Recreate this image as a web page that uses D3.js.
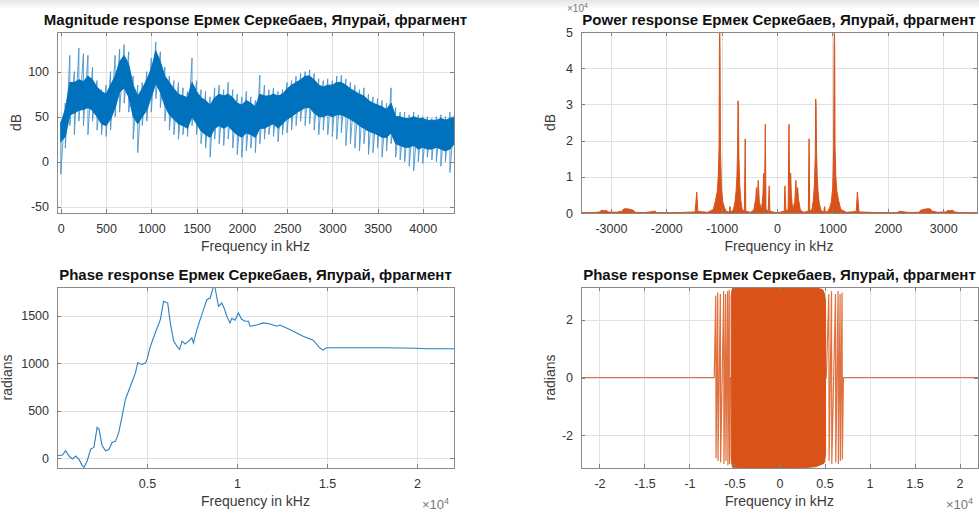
<!DOCTYPE html>
<html>
<head>
<meta charset="utf-8">
<script src="https://cdn.jsdelivr.net/npm/d3@7"></script>
<style>
  body { margin: 0; background: #fff; }
  svg { display: block; font-family: "Liberation Sans", Arial, sans-serif; }
  .grid line { stroke: #e1e1e1; shape-rendering: crispEdges; }
  .grid .domain { display: none; }
  .tk line { stroke: #808080; shape-rendering: crispEdges; }
  .tk .domain { display: none; }
  .tk text { fill: #333; font-size: 12.5px; font-family: "Liberation Sans", Arial, sans-serif; }
  .title { font-weight: bold; font-size: 15px; fill: #111; text-anchor: middle; }
  .lbl { font-size: 14px; fill: #3a3a3a; text-anchor: middle; }
  .expo { font-size: 13px; fill: #777; }
</style>
</head>
<body>
<svg id="fig" width="979" height="513"></svg>
<script>
// ---- magnitude response (dB), 50 kHz bins ----
var magFreq = [0,50,100,150,200,250,300,350,400,450,500,550,600,650,700,750,800,850,900,950,
  1000,1050,1100,1150,1200,1250,1300,1350,1400,1450,1500,1550,1600,1650,1700,1750,1800,1850,1900,1950,
  2000,2050,2100,2150,2200,2250,2300,2350,2400,2450,2500,2550,2600,2650,2700,2750,2800,2850,2900,2950,
  3000,3050,3100,3150,3200,3250,3300,3350,3400,3450,3500,3550,3600,3650,3700,3750,3800,3850,3900,3950,
  4000,4050,4100,4150,4200,4250,4300,4350];
var magPeak = [45,65,118,100,126,120,118,105,90,80, 85,100,118,125,130,122,95,85,88,100,
  115,133,122,105,95,90,88,82,78,115, 90,80,78,72,82,85,80,88,80,75,
  72,78,72,68,96,85,80,82,78,80, 88,90,95,98,100,102,98,92,90,92,
  90,95,96,92,88,85,80,82,75,72, 70,68,65,82,60,55,55,52,55,52,
  50,50,48,50,52,50,55,52];
var magHi = [43,58,88,88,91,89,95,91,83,78, 75,85,95,111,118,108,85,73,81,91,
  103,123,111,95,88,81,75,73,71,88, 78,71,68,63,71,75,73,75,71,65,
  63,68,65,61,75,73,73,75,73,75, 81,85,88,91,95,95,91,85,83,85,
  85,88,88,85,81,78,75,73,68,65, 63,61,58,65,50,50,48,48,50,48,
  48,46,46,46,48,46,48,50];
var magLo = [22,28,52,54,57,58,60,57,50,42, 40,47,60,77,82,72,50,42,50,57,
  72,87,77,62,52,47,42,40,37,50, 42,34,30,27,37,40,37,40,34,30,
  27,32,30,27,37,37,40,42,37,42, 47,50,54,57,60,60,54,50,50,52,
  50,52,52,50,47,44,40,37,34,32, 30,27,27,32,20,18,16,16,18,14,
  16,14,14,16,14,12,14,20];
var magDip = [-14,15,40,30,45,40,30,45,35,30, 28,35,50,55,65,55,25,10,40,45,
  55,70,60,45,35,30,25,30,28,40, 30,20,15,5,25,20,18,25,15,8,
  5,12,15,10,20,25,30,28,22,30, 32,35,40,45,40,42,35,30,35,30,
  28,25,32,18,20,15,12,20,8,10, 15,5,12,20,5,2,0,-5,-10,0,
  -2,5,2,0,-5,0,-12,5];

// ---- power response (x1e4) ----
var powFreq = [-3540,-3300,-3200,-3170,-3130,-3080,-3050,-2900,
  -2800,-2770,-2720,-2650,-2600,-2560,-2400,-2200,-2180,-1800,
  -1480,-1450,-1430,-1250,-1150,-1110,-1080,-1062,-1047,-1040,
  -1035,-1030,-1022,-1005,-980,-950,-920,-860,-850,-840,
  -790,-760,-740,-725,-712,-705,-698,-690,-675,-655,
  -630,-590,-575,-565,-480,-420,-385,-372,-360,-340,
  -320,-280,-255,-242,-228,-212,-200,-160,-142,-130,
  -50,0,50,
  130,142,160,200,215,230,245,258,280,320,
  340,360,372,385,420,480,565,578,590,630,
  655,675,690,698,705,712,725,740,760,790,
  840,860,870,920,950,980,1005,1022,1030,1035,
  1040,1047,1062,1080,1110,1150,1250,1430,1450,1480,
  1800,2180,2200,2400,2560,2600,2650,2720,2770,2800,
  2900,3050,3080,3130,3170,3200,3300,3610];
var powVal = [0.005,0.01,0.03,0.08,0.06,0.07,0.03,0.02,
  0.05,0.11,0.12,0.10,0.08,0.02,0.01,0.05,0.01,0.01,
  0.03,0.58,0.04,0.02,0.1,0.35,0.6,1.0,1.8,4.7,
  5.0,4.6,1.8,0.7,0.3,0.15,0.05,0.02,0.18,0.02,
  0.08,0.3,0.6,1.0,1.8,3.1,2.95,1.6,0.8,0.35,
  0.1,0.05,2.05,0.05,0.02,0.08,0.4,0.7,0.2,0.9,
  0.3,0.1,0.5,1.1,0.2,2.45,0.1,0.05,0.75,0.05,
  0.02,0.01,0.02,
  0.05,0.75,0.05,0.1,2.45,0.2,1.1,0.5,0.1,0.3,
  0.9,0.2,0.7,0.4,0.08,0.02,0.05,2.05,0.05,0.1,
  0.35,0.8,1.6,3.15,2.95,1.8,1.0,0.6,0.3,0.08,
  0.02,0.18,0.02,0.05,0.15,0.3,0.7,1.8,4.6,5.0,
  4.7,1.8,1.0,0.6,0.35,0.1,0.02,0.04,0.58,0.03,
  0.01,0.01,0.05,0.01,0.02,0.08,0.10,0.12,0.11,0.05,
  0.02,0.03,0.07,0.06,0.08,0.03,0.01,0.005];

// ---- unwrapped phase (radians), x in 1e4 kHz ----
var uwFreq = [0,0.03,0.048,0.067,0.085,0.104,0.122,0.14,0.15,0.168,0.187,0.205,0.223,0.233,0.251,0.27,
  0.288,0.306,0.325,0.343,0.362,0.38,0.408,0.436,0.448,0.472,0.491,0.5,0.519,0.546,0.574,0.592,
  0.615,0.629,0.648,0.666,0.681,0.694,0.712,0.731,0.749,0.758,0.777,0.795,0.814,0.832,0.851,0.869,
  0.878,0.897,0.915,0.928,0.943,0.961,0.971,0.989,1.007,1.026,1.044,1.063,1.072,1.109,1.146,1.183,
  1.22,1.238,1.293,1.367,1.423,1.459,1.478,1.496,1.625,1.81,1.994,2.05,2.205];
var uwPhase = [24,31,76,20,-10,20,-15,-80,-98,-28,94,112,322,304,129,77,
  90,164,175,269,443,618,758,898,1003,985,1000,1038,1177,1318,1457,1649,
  1631,1422,1230,1177,1143,1230,1200,1230,1265,1210,1352,1457,1562,1667,1684,1806,
  1790,1597,1631,1580,1492,1422,1470,1450,1527,1460,1440,1440,1387,1400,1422,1410,
  1387,1400,1352,1282,1240,1160,1135,1160,1160,1160,1155,1150,1150];

// ---- wrapped phase (radians) ----
var wrFreq = [-2.205,-0.725,-0.708,-0.705,-0.686,-0.683,-0.657,-0.654,-0.62,-0.617,-0.598,-0.595,
  -0.576,-0.573,-0.558,-0.555,-0.545,
  0.52,0.548,0.551,0.578,0.581,0.622,0.625,0.651,0.654,0.673,0.676,0.695,0.698,0.71,2.205];
var wrPhase = [0,0,2.85,-2.8,2.95,-2.9,2.9,-2.95,3.0,-3.0,2.9,-2.9,
  3.0,-3.05,3.05,-3.0,0,
  0,2.9,-2.9,3.0,-3.0,2.9,-2.95,3.0,-3.0,2.9,-2.9,2.95,-2.85,0,0];
var bandFreq = [-0.537,-0.53,-0.52,-0.4,-0.2,0,0.2,0.4,0.48,0.5,0.512];
var bandTop = [2.8,3.0,3.12,3.14,3.14,3.14,3.14,3.12,3.05,2.9,2.6];
var bandBot = [-2.75,-3.0,-3.12,-3.14,-3.14,-3.14,-3.14,-3.1,-3.0,-2.95,-2.6];

// ---- ticks ----
var magXTicks = [0,500,1000,1500,2000,2500,3000,3500,4000], magYTicks = [-50,0,50,100];
var powXTicks = [-3000,-2000,-1000,0,1000,2000,3000], powYTicks = [0,1,2,3,4,5];
var uwXTicks = [0.5,1,1.5,2], uwYTicks = [0,500,1000,1500];
var wrXTicks = [-2,-1.5,-1,-0.5,0,0.5,1,1.5,2], wrYTicks = [-2,0,2];

var titleTail = ' Ермек Серкебаев, Япурай, фрагмент';
var blue = '#0072BD', orange = '#D95319';

var svg = d3.select('#fig');

// faint grey strip at the top of the screenshot
var grad = svg.append('defs').append('linearGradient').attr('id', 'topfade')
  .attr('x1', 0).attr('x2', 0).attr('y1', 0).attr('y2', 1);
grad.append('stop').attr('offset', 0).attr('stop-color', '#e6e6e6');
grad.append('stop').attr('offset', 1).attr('stop-color', '#fff');
svg.append('rect').attr('width', 979).attr('height', 9).attr('fill', 'url(#topfade)');

var clipId = 0;

function panel(o) {
  var x = d3.scaleLinear().domain(o.xDom).range([0, o.w]);
  var y = d3.scaleLinear().domain(o.yDom).range([o.h, 0]);
  var g = svg.append('g').attr('transform', 'translate(' + o.left + ',' + o.top + ')');
  var fmt = function(d) { return String(d); };

  g.append('rect').attr('width', o.w).attr('height', o.h).attr('fill', '#fff');

  // gridlines
  g.append('g').attr('class', 'grid')
    .attr('transform', 'translate(0,' + o.h + ')')
    .call(d3.axisBottom(x).tickValues(o.xTicks).tickSize(-o.h).tickFormat(''));
  g.append('g').attr('class', 'grid')
    .call(d3.axisLeft(y).tickValues(o.yTicks).tickSize(-o.w).tickFormat(''));

  // plotting area, clipped to the box
  var id = 'clip' + (clipId++);
  g.append('clipPath').attr('id', id).append('rect').attr('width', o.w).attr('height', o.h);
  var plot = g.append('g').attr('clip-path', 'url(#' + id + ')');

  // box
  g.append('rect').attr('width', o.w).attr('height', o.h)
    .attr('fill', 'none').attr('stroke', '#8a8a8a').attr('shape-rendering', 'crispEdges');

  // ticks pointing inward on all four sides
  g.append('g').attr('class', 'tk').attr('transform', 'translate(0,' + o.h + ')')
    .call(d3.axisBottom(x).tickValues(o.xTicks).tickSizeInner(-4).tickSizeOuter(0).tickPadding(11).tickFormat(fmt));
  g.append('g').attr('class', 'tk')
    .call(d3.axisTop(x).tickValues(o.xTicks).tickSizeInner(-4).tickSizeOuter(0).tickFormat(''));
  g.append('g').attr('class', 'tk')
    .call(d3.axisLeft(y).tickValues(o.yTicks).tickSizeInner(-4).tickSizeOuter(0).tickPadding(8).tickFormat(fmt));
  g.append('g').attr('class', 'tk').attr('transform', 'translate(' + o.w + ',0)')
    .call(d3.axisRight(y).tickValues(o.yTicks).tickSizeInner(-4).tickSizeOuter(0).tickFormat(''));

  if (o.yExpo) {
    // y axis exponent, tucked just above the title's left end
    var ex = g.append('text').attr('class', 'expo').style('font-size', '10px')
      .attr('x', -14).attr('y', -20).text('\u00d710');
    ex.append('tspan').attr('dy', -4).style('font-size', '7px').text('4');
  }

  g.append('text').attr('class', 'title').attr('x', o.w / 2).attr('y', -7).text(o.title);
  g.append('text').attr('class', 'lbl').attr('x', o.w / 2).attr('y', o.h + 38).text('Frequency in kHz');
  g.append('text').attr('class', 'lbl')
    .attr('transform', 'translate(' + o.yLabelX + ',' + (o.h / 2) + ') rotate(-90)')
    .text(o.yLabel);

  if (o.xExpo) {
    var t = g.append('text').attr('class', 'expo').attr('text-anchor', 'end')
      .attr('x', o.w - 5).attr('y', o.h + 41).text('\u00d710');
    t.append('tspan').attr('dy', -5).style('font-size', '9px').text('4');
  }
  return { plot: plot, x: x, y: y };
}

// ---------- magnitude ----------
var p1 = panel({ left: 57, top: 32, w: 397, h: 181, xDom: [-42, 4345], yDom: [-57, 144],
  xTicks: magXTicks, yTicks: magYTicks, title: 'Magnitude response' + titleTail,
  yLabel: 'dB', yLabelX: -36 });

var magIdx = d3.range(magFreq.length);
var spikes = magIdx.map(function(i) { return [[magFreq[i], magPeak[i]], [magFreq[i], magDip[i]]]; });
p1.plot.append('path')
  .attr('d', d3.line().x(function(d) { return p1.x(d[0]); }).y(function(d) { return p1.y(d[1]); })([].concat.apply([], spikes)))
  .attr('fill', 'none').attr('stroke', '#4a94cc').attr('stroke-width', 0.9);
p1.plot.append('path')
  .datum(magIdx)
  .attr('d', d3.area()
    .x(function(i) { return p1.x(magFreq[i]); })
    .y0(function(i) { return p1.y(magLo[i]); })
    .y1(function(i) { return p1.y(magHi[i]); }))
  .attr('fill', blue).attr('stroke', blue).attr('stroke-width', 1);

// ---------- power ----------
var p2 = panel({ left: 581, top: 32, w: 396, h: 181, xDom: [-3540, 3610], yDom: [0, 5],
  xTicks: powXTicks, yTicks: powYTicks, title: 'Power response' + titleTail,
  yLabel: 'dB', yLabelX: -26, yExpo: true });

p2.plot.append('path')
  .datum(d3.range(powFreq.length))
  .attr('d', d3.area()
    .x(function(i) { return p2.x(powFreq[i]); })
    .y0(p2.y(0))
    .y1(function(i) { return p2.y(powVal[i]); }))
  .attr('fill', orange).attr('stroke', orange).attr('stroke-width', 1);

// ---------- unwrapped phase ----------
var p3 = panel({ left: 57, top: 287, w: 397, h: 181, xDom: [0, 2.205], yDom: [-105, 1800],
  xTicks: uwXTicks, yTicks: uwYTicks, title: 'Phase response' + titleTail,
  yLabel: 'radians', yLabelX: -45, xExpo: true });

p3.plot.append('path')
  .datum(d3.range(uwFreq.length))
  .attr('d', d3.line()
    .x(function(i) { return p3.x(uwFreq[i]); })
    .y(function(i) { return p3.y(uwPhase[i]); }))
  .attr('fill', 'none').attr('stroke', '#2a80bf').attr('stroke-width', 1.1);

// ---------- wrapped phase ----------
var p4 = panel({ left: 581, top: 287, w: 397, h: 181, xDom: [-2.205, 2.205], yDom: [-Math.PI, Math.PI],
  xTicks: wrXTicks, yTicks: wrYTicks, title: 'Phase response' + titleTail,
  yLabel: 'radians', yLabelX: -26, xExpo: true });

p4.plot.append('path')
  .datum(d3.range(wrFreq.length))
  .attr('d', d3.line()
    .x(function(i) { return p4.x(wrFreq[i]); })
    .y(function(i) { return p4.y(wrPhase[i]); }))
  .attr('fill', 'none').attr('stroke', '#e0703d').attr('stroke-width', 1.2);
p4.plot.append('path')
  .datum(d3.range(bandFreq.length))
  .attr('d', d3.area()
    .x(function(i) { return p4.x(bandFreq[i]); })
    .y0(function(i) { return p4.y(bandBot[i]); })
    .y1(function(i) { return p4.y(bandTop[i]); }))
  .attr('fill', orange).attr('stroke', orange).attr('stroke-width', 1);
</script>
</body>
</html>
